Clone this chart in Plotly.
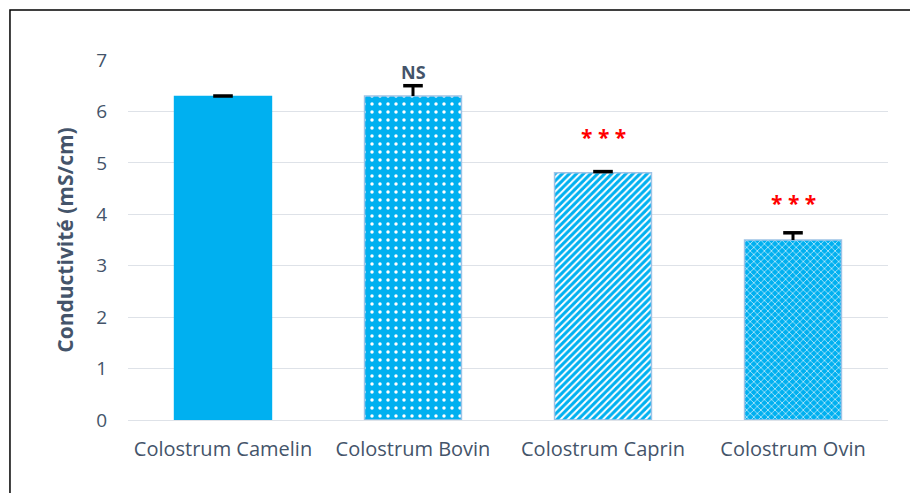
import plotly.graph_objects as go

# Conductivity of colostrum by species
categories = ["Colostrum Camelin", "Colostrum Bovin", "Colostrum Caprin", "Colostrum Ovin"]
conductivity = [6.29, 6.30, 4.81, 3.50]
error_plus = [0.01, 0.20, 0.02, 0.14]
significance = ["", "NS", "* * *", "* * *"]
significance_y = [None, 6.77, 5.51, 4.22]
y_ticks = [0, 1, 2, 3, 4, 5, 6, 7]

BLUE = "#00B0F0"
TEXT = "#44546A"
GRID = "#DEE2E8"
FONT = "Open Sans"

fig = go.Figure()
fig.add_trace(go.Bar(
    x=categories,
    y=conductivity,
    width=0.51,
    marker=dict(
        color=BLUE,
        line=dict(color=[BLUE, "#9DC3E6", "#9DC3E6", "#9DC3E6"], width=1.5),
        pattern=dict(
            shape=["", ".", "/", "x"],
            fgcolor="white",
            bgcolor=BLUE,
            fillmode="replace",
            size=[8, 8, 5, 5],
            solidity=[0.3, 0.15, 0.4, 0.22],
        ),
    ),
    # upward error stems only (caps are drawn by the marker trace below)
    error_y=dict(
        type="data",
        symmetric=False,
        array=error_plus,
        arrayminus=[0, 0, 0, 0],
        color="black",
        thickness=3,
        width=0,
    ),
    showlegend=False,
))

# error bar caps at value + error
fig.add_trace(go.Scatter(
    x=categories,
    y=[v + e for v, e in zip(conductivity, error_plus)],
    mode="markers",
    marker=dict(symbol="line-ew", size=14, line=dict(color="black", width=3.5)),
    showlegend=False, hoverinfo="skip",
))

for cat, label, ly in zip(categories, significance, significance_y):
    if not label:
        continue
    is_ns = label == "NS"
    fig.add_annotation(
        x=cat, y=ly, text=f"<b>{label}</b>",
        showarrow=False, yanchor="middle",
        font=dict(family=FONT, size=18 if is_ns else 21,
                  color=TEXT if is_ns else "#FF0000"),
    )

# outer frame around the chart
fig.add_shape(type="rect", xref="paper", yref="paper",
              x0=-0.1553, x1=1.06, y0=-0.3, y1=1.1389,
              line=dict(color="black", width=1.5), layer="above")

fig.update_layout(
    width=910, height=493,
    margin=dict(l=128, r=22, t=60, b=73),
    paper_bgcolor="white", plot_bgcolor="white",
    font=dict(family=FONT, color=TEXT),
    bargap=0.49,
    xaxis=dict(
        showgrid=False, showline=False, ticks="",
        ticklabelstandoff=15,
        tickfont=dict(size=20, color=TEXT),
    ),
    yaxis=dict(
        range=[0, 7], tickvals=y_ticks,
        showgrid=True, gridcolor=GRID, gridwidth=1,
        zeroline=True, zerolinecolor=GRID, zerolinewidth=1,
        showline=False, ticks="", ticklabelstandoff=20,
        tickfont=dict(size=19, color=TEXT),
        title=dict(text="<b>Conductivité (mS/cm)</b>", standoff=16,
                   font=dict(size=21, color=TEXT)),
    ),
)

fig.write_html("out.html")
